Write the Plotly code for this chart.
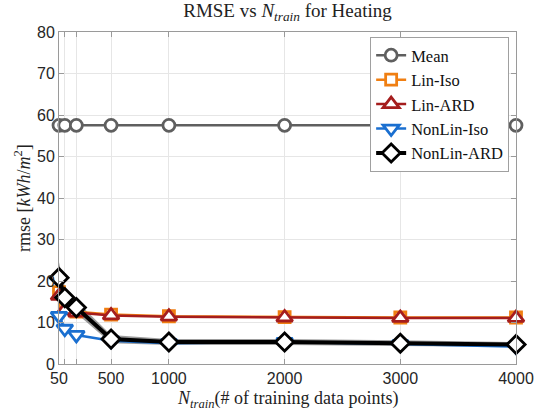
import plotly.graph_objects as go

# Training-set sizes and RMSE results per model
n_train = [50, 100, 200, 500, 1000, 2000, 3000, 4000]
tick_text = ["50", "", "", "500", "1000", "2000", "3000", "4000"]

rmse_mean = [57.5, 57.5, 57.5, 57.5, 57.5, 57.5, 57.5, 57.5]
rmse_lin_iso = [17.3, 14.0, 12.6, 11.9, 11.5, 11.3, 11.2, 11.2]
rmse_lin_ard = [16.4, 13.0, 12.4, 11.7, 11.4, 11.2, 11.1, 11.1]
rmse_nonlin_iso = [11.6, 8.5, 7.0, 5.6, 5.0, 5.3, 4.8, 4.2]
rmse_nonlin_ard = [20.8, 16.0, 13.6, 6.0, 5.3, 5.3, 5.0, 4.7]
ard_upper = [24.5, 18.5, 15.2, 7.0, 6.0, 6.0, 5.7, 5.3]
ard_lower = [17.2, 13.8, 12.2, 5.0, 4.6, 4.6, 4.3, 4.1]

serif = "Liberation Serif"
sans = "Liberation Sans"

fig = go.Figure()

# spread of the NonLin-ARD runs
fig.add_trace(go.Scatter(x=n_train + n_train[::-1], y=ard_upper + ard_lower[::-1],
                         fill="toself", fillcolor="rgba(90,90,90,0.6)",
                         line=dict(width=0), mode="lines", showlegend=False,
                         hoverinfo="skip"))

series = [
    ("Mean", rmse_mean, "#5f5f5f", "circle", 2.5, 12),
    ("Lin-Iso", rmse_lin_iso, "#f07f12", "square", 2.5, 11),
    ("Lin-ARD", rmse_lin_ard, "#a51d1d", "triangle-up", 2.5, 14),
    ("NonLin-Iso", rmse_nonlin_iso, "#1a6fd0", "triangle-down", 2.5, 14),
    ("NonLin-ARD", rmse_nonlin_ard, "#000000", "diamond", 4, 14),
]
for name, vals, color, symbol, lw, ms in series:
    fig.add_trace(go.Scatter(
        x=n_train, y=vals, name=name, mode="lines+markers",
        line=dict(color=color, width=lw), cliponaxis=False,
        marker=dict(symbol=symbol, size=ms, color="white",
                    line=dict(color=color, width=2.8)),
    ))

fig.update_layout(
    width=537, height=410,
    margin=dict(l=59, r=21, t=32, b=46),
    paper_bgcolor="white", plot_bgcolor="white",
    title=dict(text="RMSE vs <i>N</i><sub><i>train</i></sub> for Heating",
               x=0.5, xanchor="center", xref="paper", y=0.99, yanchor="top",
               font=dict(family=serif, size=19, color="#222222")),
    legend=dict(x=0.985, y=0.985, xanchor="right", yanchor="top",
                bgcolor="white", bordercolor="#a0a0a0", borderwidth=1,
                font=dict(family=serif, size=16.5, color="#111111"),
                tracegroupgap=0, itemwidth=30),
    showlegend=True,
    annotations=[
        dict(text="<i>N</i><sub><i>train</i></sub>(# of training data points)",
             xref="paper", yref="paper", x=0.5, y=-0.108,
             xanchor="center", yanchor="middle", showarrow=False,
             font=dict(family=serif, size=18, color="#222222")),
        dict(text="rmse [<i>kWh</i>/<i>m</i><sup>2</sup>]",
             xref="paper", yref="paper", x=-0.081, y=0.5, textangle=-90,
             xanchor="center", yanchor="middle", showarrow=False,
             font=dict(family=serif, size=18, color="#222222")),
    ],
)

fig.update_xaxes(
    range=[50, 4000], tickvals=n_train, ticktext=tick_text,
    showgrid=True, gridcolor="#e6e6e6", gridwidth=1,
    showline=True, linecolor="#9a9a9a", linewidth=1, mirror="ticks",
    ticks="inside", ticklen=5, tickcolor="#9a9a9a",
    tickfont=dict(family=sans, size=16, color="#262626"),
    zeroline=False, automargin=False,
)
fig.update_yaxes(
    range=[0, 80], tickvals=[0, 10, 20, 30, 40, 50, 60, 70, 80],
    showgrid=True, gridcolor="#e6e6e6", gridwidth=1,
    showline=True, linecolor="#9a9a9a", linewidth=1, mirror="ticks",
    ticks="inside", ticklen=5, tickcolor="#9a9a9a",
    tickfont=dict(family=sans, size=16, color="#262626"),
    zeroline=False, automargin=False,
)

fig.write_html("out.html")
